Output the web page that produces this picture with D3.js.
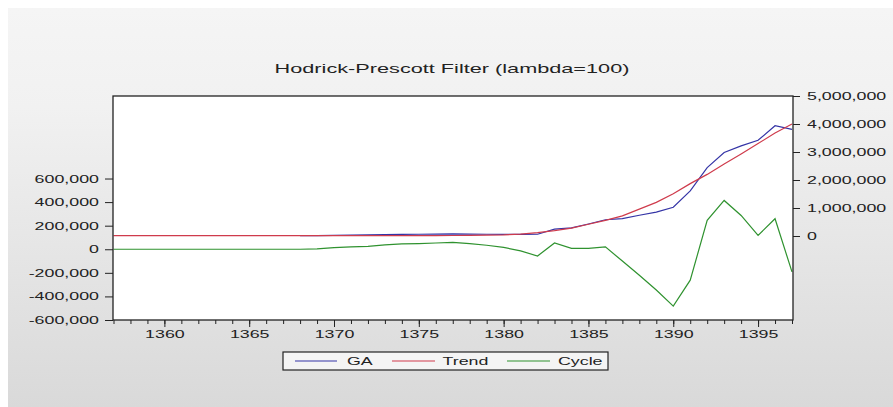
<!DOCTYPE html>
<html>
<head>
<meta charset="utf-8">
<script src="https://cdn.jsdelivr.net/npm/d3@7/dist/d3.min.js"></script>
<style>
  html, body { margin: 0; padding: 0; background: #ffffff; }
  svg { display: block; }
  text { font-family: "Liberation Sans", Arial, sans-serif; fill: #222; }
</style>
</head>
<body>
<svg id="chart" width="893" height="407"></svg>
<script>
// ---------------- DATA ----------------
const years = d3.range(1357, 1398);
const gaValues = [
  null, null, null, null, null, null, null, null, null, null, null,   // 1357-1367
  10000, 13000, 25000, 32000, 37000, 50000, 59000, 63000, 69000, 77000, // 1368-1377
  70000, 62000, 56000, 56000, 63000, 243000, 288000, 428000, 580000, 620000, // 1378-1387
  740000, 854000, 1028000, 1608000, 2445000, 2984000, 3217000, 3418000, 3939000, 3808000 // 1388-1397
];
const trendValues = [
  10000, 10000, 10000, 10000, 10000, 10000, 10000, 10000, 10000, 10000, 10000, // 1357-1367
  10000, 10000, 11000, 12000, 12000, 13000, 14000, 15000, 16000, 18000,     // 1368-1377
  22000, 28000, 40000, 70000, 120000, 190000, 280000, 420000, 560000, 720000, // 1378-1387
  960000, 1200000, 1510000, 1870000, 2200000, 2570000, 2930000, 3300000, 3680000, 4000000 // 1388-1397
];
const cycleValues = [
  0, 0, 0, 0, 0, 0, 0, 0, 0, 0, 0,                                  // 1357-1367
  0, 3000, 14000, 20000, 25000, 37000, 45000, 48000, 53000, 59000,  // 1368-1377
  48000, 34000, 16000, -14000, -57000, 53000, 8000, 8000, 20000, -100000, // 1378-1387
  -220000, -346000, -482000, -262000, 245000, 414000, 287000, 118000, 259000, -192000 // 1388-1397
];
const seriesNames = ["GA", "Trend", "Cycle"];
const leftTicks = [-600000, -400000, -200000, 0, 200000, 400000, 600000];
const rightTicks = [0, 1000000, 2000000, 3000000, 4000000, 5000000];
const majorYears = [1360, 1365, 1370, 1375, 1380, 1385, 1390, 1395];
const titleText = "Hodrick-Prescott Filter (lambda=100)";

// ---------------- LAYOUT ----------------
const svg = d3.select("#chart");
const W = 893, H = 407;
const plot = { left: 113, right: 793, top: 96, bottom: 320 };
const SX = 1.62; // horizontal stretch of text, as in the reference
const colors = { GA: "#3434a6", Trend: "#cf3b4c", Cycle: "#2f922f" };

// background panel with gradient
const defs = svg.append("defs");
const grad = defs.append("linearGradient").attr("id", "bg").attr("x1", 0).attr("y1", 0).attr("x2", 0).attr("y2", 1);
grad.append("stop").attr("offset", "0%").attr("stop-color", "#f5f5f5");
grad.append("stop").attr("offset", "25%").attr("stop-color", "#f1f1f1");
grad.append("stop").attr("offset", "100%").attr("stop-color", "#d9d9d9");
svg.append("rect").attr("x", 0).attr("y", 0).attr("width", W).attr("height", H).attr("fill", "#ffffff");
svg.append("rect").attr("x", 8).attr("y", 8).attr("width", W - 8).attr("height", H - 8).attr("fill", "url(#bg)");

// scales
const x = d3.scaleLinear().domain([1357, 1397]).range([plot.left + 0.5, plot.right - 1]);
const yL = d3.scaleLinear().domain([-600000, 1300000]).range([plot.bottom, plot.top]);
const yR = d3.scaleLinear().domain([-3000000, 5000000]).range([plot.bottom, plot.top]);

const loc = d3.formatLocale({ decimal: ".", thousands: ",", grouping: [3], currency: ["$", ""], minus: "-" });
const fmt = loc.format(",");

// plot area
svg.append("rect").attr("x", plot.left).attr("y", plot.top)
  .attr("width", plot.right - plot.left).attr("height", plot.bottom - plot.top)
  .attr("fill", "#ffffff");

// helper: stretch axis labels horizontally around their anchor
function stretchLabels(g, size) {
  g.selectAll(".tick text").each(function () {
    const t = d3.select(this);
    const xx = +t.attr("x") || 0;
    const yy = +t.attr("y") || 0;
    t.attr("x", 0).attr("y", 0)
      .attr("transform", `translate(${xx},${yy}) scale(${SX},1)`)
      .style("font-size", size + "px")
      .style("fill", "#222")
      .attr("font-family", null);
  });
}

// left axis
const gL = svg.append("g").attr("transform", `translate(${plot.left},0)`)
  .call(d3.axisLeft(yL).tickValues(leftTicks).tickFormat(fmt).tickSize(8).tickPadding(6));
gL.select(".domain").remove();
gL.selectAll(".tick line").attr("stroke", "#222");
stretchLabels(gL, 11);

// right axis
const gR = svg.append("g").attr("transform", `translate(${plot.right},0)`)
  .call(d3.axisRight(yR).tickValues(rightTicks).tickFormat(fmt).tickSize(7).tickPadding(7));
gR.select(".domain").remove();
gR.selectAll(".tick line").attr("stroke", "#222");
stretchLabels(gR, 11);

// bottom axis: minor yearly ticks + major labelled ticks
const gBm = svg.append("g").attr("transform", `translate(0,${plot.bottom})`)
  .call(d3.axisBottom(x).tickValues(years).tickFormat("").tickSize(4));
gBm.select(".domain").remove();
gBm.selectAll(".tick line").attr("stroke", "#222");
const gB = svg.append("g").attr("transform", `translate(0,${plot.bottom})`)
  .call(d3.axisBottom(x).tickValues(majorYears).tickFormat(d3.format("d")).tickSize(7).tickPadding(3));
gB.select(".domain").remove();
gB.selectAll(".tick line").attr("stroke", "#222");
gB.selectAll(".tick text").each(function () {
  const t = d3.select(this);
  const yy = +t.attr("y") || 0;
  t.attr("y", 0).attr("transform", `translate(0,${yy}) scale(${SX},1)`)
    .style("font-size", "11px").style("fill", "#222").attr("font-family", null);
});

// lines
const clip = defs.append("clipPath").attr("id", "clip").append("rect")
  .attr("x", plot.left).attr("y", plot.top).attr("width", plot.right - plot.left).attr("height", plot.bottom - plot.top);
const gLines = svg.append("g").attr("clip-path", "url(#clip)");

const lineR = d3.line().defined(d => d[1] !== null).x(d => x(d[0])).y(d => yR(d[1]));
const lineL = d3.line().defined(d => d[1] !== null).x(d => x(d[0])).y(d => yL(d[1]));

gLines.append("path").datum(years.map((yr, i) => [yr, gaValues[i]]))
  .attr("d", lineR).attr("fill", "none").attr("stroke", colors.GA).attr("stroke-width", 1.2);
gLines.append("path").datum(years.map((yr, i) => [yr, trendValues[i]]))
  .attr("d", lineR).attr("fill", "none").attr("stroke", colors.Trend).attr("stroke-width", 1.2);
gLines.append("path").datum(years.map((yr, i) => [yr, cycleValues[i]]))
  .attr("d", lineL).attr("fill", "none").attr("stroke", colors.Cycle).attr("stroke-width", 1.2);

// frame
svg.append("rect").attr("x", plot.left).attr("y", plot.top)
  .attr("width", plot.right - plot.left).attr("height", plot.bottom - plot.top)
  .attr("fill", "none").attr("stroke", "#222").attr("stroke-width", 1.3);

// title
svg.append("text").text(titleText)
  .attr("text-anchor", "middle")
  .attr("transform", `translate(${(plot.left + plot.right) / 2 - 1},73) scale(${SX},1)`)
  .style("font-size", "13.4px");

// legend
const leg = { x: 283, y: 352, w: 325, h: 18 };
svg.append("rect").attr("x", leg.x).attr("y", leg.y).attr("width", leg.w).attr("height", leg.h)
  .attr("fill", "#f4f4f4").attr("stroke", "#222").attr("stroke-width", 1.2);
const legItems = [
  { name: seriesNames[0], x0: 295, x1: 337, tx: 347 },
  { name: seriesNames[1], x0: 392, x1: 435, tx: 442.5 },
  { name: seriesNames[2], x0: 507, x1: 550, tx: 558 }
];
const ly = leg.y + leg.h / 2;
legItems.forEach(it => {
  svg.append("line").attr("x1", it.x0).attr("x2", it.x1).attr("y1", ly).attr("y2", ly)
    .attr("stroke", colors[it.name]).attr("stroke-width", 1.2);
  svg.append("text").text(it.name)
    .attr("dy", "0.35em")
    .attr("transform", `translate(${it.tx},${ly}) scale(${SX},1)`)
    .style("font-size", "11px");
});
</script>
</body>
</html>
